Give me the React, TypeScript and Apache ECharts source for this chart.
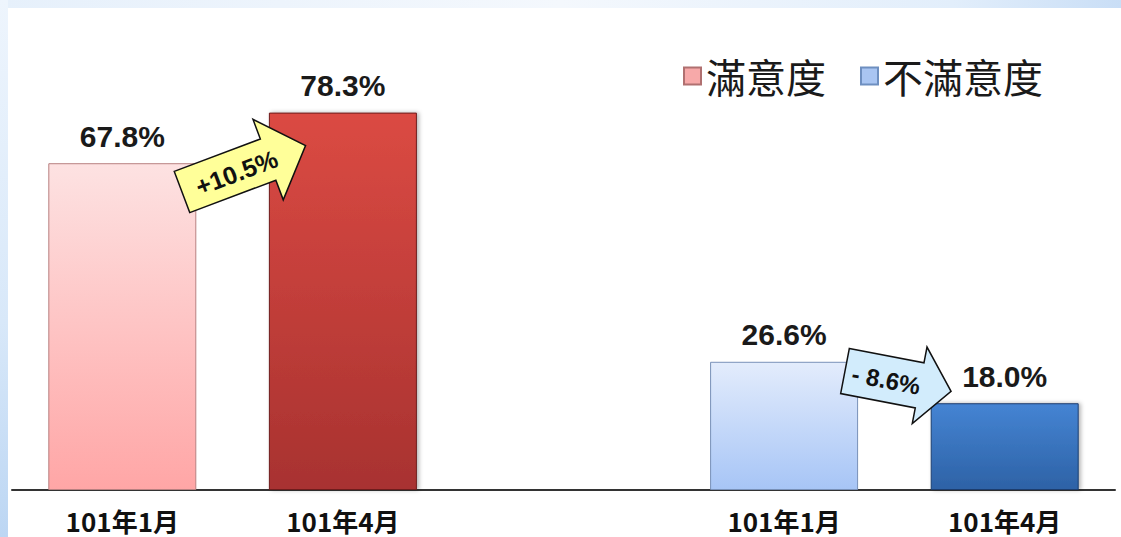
import React, { useEffect, useRef } from "react";
import * as echarts from "echarts";

const categories = ["101年1月", "101年4月", "", "101年1月", "101年4月"];
const satisfied: (number | string)[] = [67.8, 78.3, "-", "-", "-"];
const dissatisfied: (number | string)[] = ["-", "-", "-", 26.6, 18.0];
const legendNames = ["滿意度", "不滿意度"];
const changeLabels = ["+10.5%", "- 8.6%"];

const vgrad = (top: string, bottom: string) =>
  new echarts.graphic.LinearGradient(0, 0, 0, 1, [
    { offset: 0, color: top },
    { offset: 1, color: bottom },
  ]);

function arrow(
  x: number,
  y: number,
  rot: number,
  len: number,
  shaftHalf: number,
  headHalf: number,
  headLen: number,
  fill: string,
  text: string,
  textPos: number,
  fontSize: number
) {
  const b = len - headLen;
  return {
    type: "group",
    x,
    y,
    rotation: rot,
    z: 100,
    children: [
      {
        type: "polygon",
        z: 100,
        shape: {
          points: [
            [0, -shaftHalf],
            [b, -shaftHalf],
            [b, -headHalf],
            [len, 0],
            [b, headHalf],
            [b, shaftHalf],
            [0, shaftHalf],
          ],
        },
        style: { fill, stroke: "#111", lineWidth: 1.5 },
      },
      {
        type: "text",
        z: 101,
        x: textPos,
        y: 1,
        style: {
          text,
          fill: "#111",
          font: `bold ${fontSize}px 'Liberation Sans', Arial, sans-serif`,
          align: "center",
          verticalAlign: "middle",
        },
      },
    ],
  };
}

export default function App() {
  const ref = useRef<HTMLDivElement>(null);
  useEffect(() => {
    if (!ref.current) return;
    const chart = echarts.init(ref.current, null, { renderer: "svg" });
    const labelFmt = (p: any) =>
      typeof p.value === "number" ? p.value.toFixed(1) + "%" : "";
    const label = {
      show: true,
      position: "top",
      distance: 12,
      formatter: labelFmt,
      color: "#1a1a1a",
      fontSize: 30,
      fontWeight: "bold",
      fontFamily: "'Liberation Sans', Arial, sans-serif",
    };
    chart.setOption({
      animation: false,
      backgroundColor: "transparent",
      grid: { left: 12, right: 6, top: 8, bottom: 47, containLabel: false },
      legend: {
        data: legendNames,
        left: 678,
        top: 51,
        itemWidth: 17,
        itemHeight: 17,
        itemGap: 34,
        icon: "rect",
        textStyle: {
          fontSize: 40,
          color: "#1a1a1a",
          fontFamily: "'Noto Sans CJK TC', sans-serif",
          padding: [0, 0, 0, 0],
        },
      },
      xAxis: {
        type: "category",
        data: categories,
        axisLine: { lineStyle: { color: "#333", width: 2 } },
        axisTick: { show: false },
        axisLabel: {
          margin: 17,
          fontSize: 26,
          fontWeight: "bold",
          color: "#111",
          fontFamily: "'Noto Sans CJK TC', sans-serif",
        },
      },
      yAxis: {
        type: "value",
        min: 0,
        max: 100,
        show: false,
        splitLine: { show: false },
      },
      series: [
        {
          name: legendNames[0],
          type: "bar",
          stack: "s",
          barWidth: 148,
          z: 2,
          itemStyle: { color: "#f7a9a9", borderColor: "#b07070", borderWidth: 1 },
          label,
          data: satisfied.map((v, i) => ({
            value: v,
            itemStyle:
              i === 0
                ? { color: vgrad("#fde2e2", "#ffa6a6"), borderColor: "#b88080" }
                : {
                    color: vgrad("#db4a43", "#a83230"),
                    borderColor: "#6e1c1c",
                    shadowColor: "rgba(0,0,0,0.3)",
                    shadowBlur: 4,
                    shadowOffsetX: 2,
                  },
          })),
        },
        {
          name: legendNames[1],
          type: "bar",
          stack: "s",
          barWidth: 148,
          z: 2,
          itemStyle: { color: "#a9c5f2", borderColor: "#6e8fc0", borderWidth: 1 },
          label,
          data: dissatisfied.map((v, i) => ({
            value: v,
            itemStyle:
              i === 3
                ? { color: vgrad("#e3ecfc", "#a7c5f6"), borderColor: "#7890b8" }
                : {
                    color: vgrad("#4584d3", "#2d62a6"),
                    borderColor: "#1c3e6e",
                    shadowColor: "rgba(0,0,0,0.3)",
                    shadowBlur: 4,
                    shadowOffsetX: 2,
                  },
          })),
        },
      ],
      graphic: {
        elements: [
          arrow(182, 192, 0.36, 132, 22, 43, 40, "#ffff99", changeLabels[0], 58, 25),
          arrow(845, 371, -0.19, 108, 23, 39, 32, "#d2ecfc", changeLabels[1], 42, 24),
        ],
      },
    });
    return () => chart.dispose();
  }, []);

  return (
    <div
      style={{
        position: "fixed",
        left: 0,
        top: 0,
        width: 1121,
        height: 537,
        background: "#e4eefa",
        overflow: "hidden",
      }}
    >
      <div
        style={{
          position: "absolute",
          left: 0,
          top: 0,
          width: 1121,
          height: 8,
          background: "linear-gradient(to right, #e6f0fb, #f4f8fd 50%, #e2eefb 85%, #c9def6)",
        }}
      />
      <div
        style={{
          position: "absolute",
          left: 0,
          top: 0,
          width: 8,
          height: 537,
          background: "linear-gradient(to bottom, #eef5fd, #d8e8f9 60%, #bcd6f3)",
        }}
      />
      <div
        style={{
          position: "absolute",
          left: 8,
          top: 8,
          width: 1113,
          height: 529,
          background: "#ffffff",
        }}
      />
      <div
        ref={ref}
        style={{ position: "absolute", left: 0, top: 0, width: 1121, height: 537 }}
      />
    </div>
  );
}
